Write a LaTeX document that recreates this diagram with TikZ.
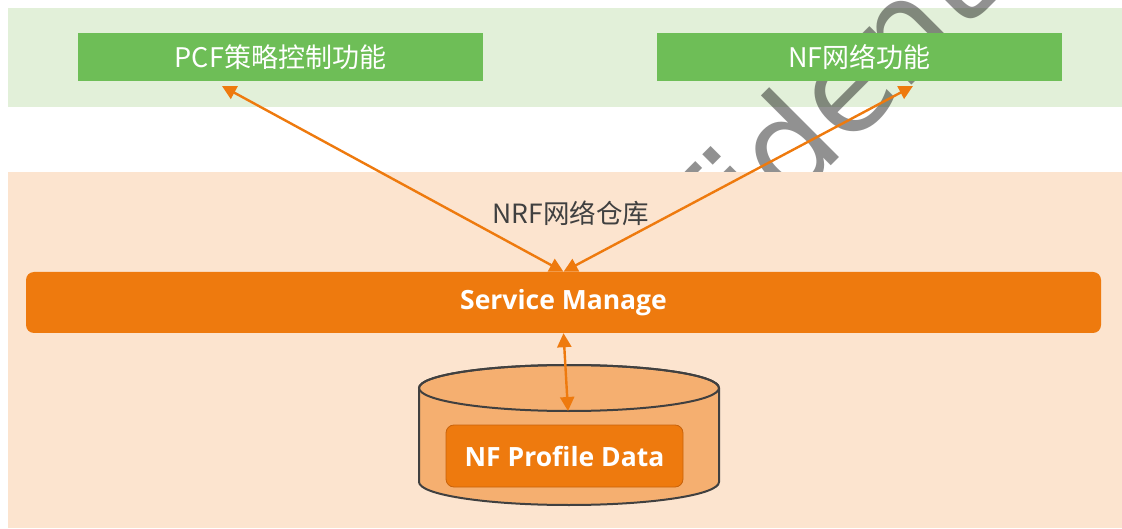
\documentclass[tikz,border=0pt]{standalone}
\usepackage{fontspec}
\usetikzlibrary{arrows.meta}
\newfontfamily\cjk{Noto Sans CJK SC}
\newfontfamily\osans{Open Sans}
\newfontfamily\wmfont{DejaVu Sans}
\definecolor{bandgreen}{HTML}{E2F0D9}
\definecolor{boxgreen}{HTML}{6EBE57}
\definecolor{bandorange}{HTML}{FCE4CF}
\definecolor{barorange}{HTML}{EE7A0E}
\definecolor{cylorange}{HTML}{F5AF70}
\definecolor{darkline}{HTML}{404040}
\definecolor{pborder}{HTML}{C8620A}
\tikzset{
  gbox/.style={fill=boxgreen, text=white, minimum width=405pt, minimum height=48pt,
    inner sep=0pt, font=\cjk\fontsize{27}{30}\selectfont},
  lbl/.style={text=darkline, inner sep=0pt, font=\cjk\fontsize{26.5}{30}\selectfont},
  barbox/.style={fill=barorange, text=white, rounded corners=8pt, minimum width=1075pt,
    minimum height=61pt, inner sep=0pt, font=\osans\bfseries\fontsize{26.5}{30}\selectfont},
  pbox/.style={fill=barorange, draw=pborder, line width=0.8pt, text=white, rounded corners=8pt,
    minimum width=237pt, minimum height=62pt, inner sep=0pt,
    font=\osans\bfseries\fontsize{26.5}{30}\selectfont},
  wm/.style={text=black, text opacity=0.43, rotate=45, anchor=base, inner sep=0pt,
    font=\wmfont\fontsize{130}{140}\selectfont},
  arr/.style={draw=barorange, line width=2.4pt,
    {Triangle[length=14pt,width=14pt]}-{Triangle[length=14pt,width=14pt]}},
  cyl/.style={fill=cylorange, draw=darkline, line width=2pt}
}
\begin{document}
\begin{tikzpicture}[x=1pt,y=-1pt]
\useasboundingbox (0,0) rectangle (1122,529);
\begin{scope}
  \clip (0,0) rectangle (1122,529);
  \fill[bandgreen] (8,8) rectangle (1122,107);
  \node[wm] (wmark) at (829,168) {Confidential};
  \fill[bandorange] (8,172) rectangle (1122,528);
\end{scope}
% top function boxes
\node[gbox] (pcf) at (280.5,57) {PCF策略控制功能};
\node[gbox] (nf) at (859.5,57) {NF网络功能};
% label
\node[lbl] (nrf) at (571,213) {NRF网络仓库};
% service manage bar
\node[barbox] (sm) at (563.5,302.5) {Service Manage};
% cylinder
\path[cyl] (419,388) -- (419,482)
  arc[start angle=180, end angle=360, x radius=150pt, y radius=23pt]
  -- (719,388)
  arc[start angle=0, end angle=180, x radius=150pt, y radius=23pt] -- cycle;
\draw[darkline, line width=2pt] (569,388) ellipse [x radius=150pt, y radius=23pt];
\coordinate (cyltop) at (568,411);
\node[pbox] (pd) at (564.5,456) {NF Profile Data};
% connectors
\coordinate (pcftip) at (222,86);
\coordinate (nftip) at (913,86);
\draw[arr] (pcftip) -- (sm.north);
\draw[arr] (nftip) -- (sm.north);
\draw[arr] (sm.south) -- (cyltop);
\end{tikzpicture}
\end{document}
